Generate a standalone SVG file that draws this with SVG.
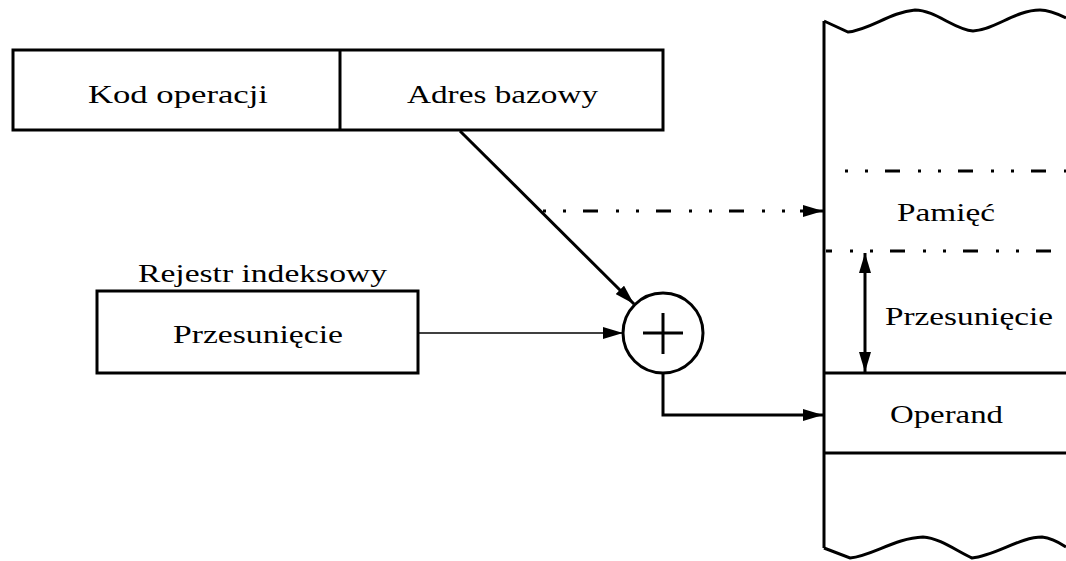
<svg xmlns="http://www.w3.org/2000/svg" width="1066" height="561" viewBox="0 0 1066 561">
<style>
.box{fill:#fff;stroke:#000;stroke-width:3}
.ln{fill:none;stroke:#000;stroke-width:3}
.thin{fill:none;stroke:#000;stroke-width:1.5}
.dd{fill:none;stroke:#000;stroke-width:3;stroke-dasharray:15 18 3 17 3 17}
text{font-family:"Liberation Serif","Times New Roman",serif;font-size:26px;fill:#000}
</style>
<defs>
<marker id="ah" viewBox="0 0 20 12" refX="20" refY="6" markerWidth="20" markerHeight="12" markerUnits="userSpaceOnUse" orient="auto-start-reverse">
<path d="M0,0 L20,6 L0,12 z" fill="#000"/>
</marker>
</defs>
<rect width="1066" height="561" fill="#fff"/>
<g id="memory">
<path class="ln" d="M824,21 L848,32 C870,30 890,12 915,10 C935,10 955,30 973,31 C995,30 1015,10 1040,10 C1050,10 1060,15 1066,18"/>
<path class="ln" d="M824,548 L850,558 C872,556 895,538 923,537 C940,538 958,552 972,558 C995,556 1020,537 1042,537 C1052,538 1060,543 1066,547"/>
<line class="ln" x1="824" y1="21" x2="824" y2="548"/>
<line class="dd" x1="845" y1="171" x2="1066" y2="171" stroke-dashoffset="33"/>
<line class="dd" x1="826" y1="251" x2="1066" y2="251" stroke-dashoffset="9"/>
<line class="ln" x1="824" y1="373" x2="1066" y2="373"/>
<line class="ln" x1="824" y1="453" x2="1066" y2="453"/>
<text x="897" y="221" textLength="98" lengthAdjust="spacingAndGlyphs">Pamięć</text>
<text x="885" y="325" textLength="168" lengthAdjust="spacingAndGlyphs">Przesunięcie</text>
<text x="890" y="423" textLength="113" lengthAdjust="spacingAndGlyphs">Operand</text>
</g>
<g id="instruction">
<rect class="box" x="13" y="50" width="650" height="80"/>
<line class="ln" x1="340" y1="50" x2="340" y2="130"/>
<text x="88" y="103" textLength="180" lengthAdjust="spacingAndGlyphs">Kod operacji</text>
<text x="407" y="103" textLength="191" lengthAdjust="spacingAndGlyphs">Adres bazowy</text>
</g>
<g id="index-register">
<text x="138" y="282" textLength="249" lengthAdjust="spacingAndGlyphs">Rejestr indeksowy</text>
<rect class="box" x="97" y="291" width="321" height="82"/>
<text x="173" y="343" textLength="170" lengthAdjust="spacingAndGlyphs">Przesunięcie</text>
</g>
<g id="adder">
<circle cx="663" cy="333" r="40" fill="#fff" stroke="#000" stroke-width="3"/>
<line class="ln" x1="643" y1="333" x2="683" y2="333"/>
<line class="ln" x1="663" y1="313" x2="663" y2="354"/>
</g>
<g id="connectors">
<line class="ln" x1="460" y1="131" x2="634" y2="304" marker-end="url(#ah)"/>
<line class="dd" x1="542" y1="211" x2="802" y2="211" stroke-dashoffset="32"/>
<line class="ln" x1="800" y1="211" x2="823" y2="211" stroke-width="0" marker-end="url(#ah)"/>
<line class="thin" x1="418" y1="333" x2="623" y2="333" marker-end="url(#ah)"/>
<polyline class="ln" points="663,373 663,415 823,415" marker-end="url(#ah)"/>
<line class="ln" x1="865" y1="253" x2="865" y2="372" marker-start="url(#ah)" marker-end="url(#ah)"/>
</g>
</svg>
